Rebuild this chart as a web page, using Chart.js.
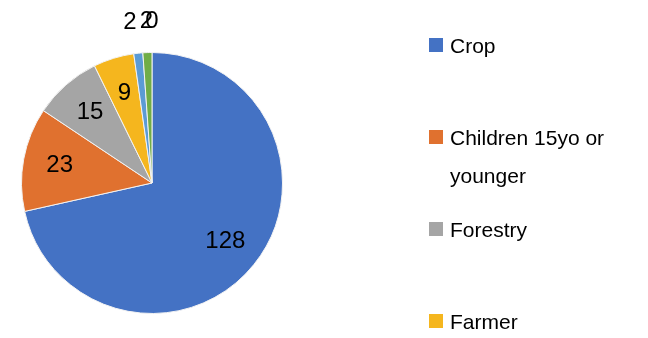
<!DOCTYPE html>
<html>
<head>
<meta charset="utf-8">
<script src="https://cdn.jsdelivr.net/npm/chart.js@4/dist/chart.umd.min.js"></script>
<style>
  html, body { margin: 0; padding: 0; background: #fff; }
  #wrap { width: 648px; height: 338px; position: relative; }
</style>
</head>
<body>
<div id="wrap"><canvas id="pie"></canvas></div>
<script>
const categories = ["Crop", "Children 15yo or younger", "Forestry", "Farmer", "Category 5", "Category 6", "Category 7"];
const counts = [128, 23, 15, 9, 2, 2, 0];
const colors = ["#4472C4", "#E0712F", "#A5A5A5", "#F5B61E", "#5B9BD5", "#70AD47", "#264478"];

const FONT = "'Liberation Sans', Arial, sans-serif";

// value labels: inside the slice when big enough, else just outside the rim
const valueLabels = {
  id: "valueLabels",
  afterDatasetsDraw(chart) {
    const ctx = chart.ctx;
    const meta = chart.getDatasetMeta(0);
    ctx.save();
    ctx.fillStyle = "#000";
    ctx.font = "24px " + FONT;
    ctx.textAlign = "center";
    ctx.textBaseline = "middle";
    let firstOutside = true;
    meta.data.forEach((arc, i) => {
      const p = arc.getProps(["x", "y", "startAngle", "endAngle", "outerRadius"], true);
      const mid = (p.startAngle + p.endAngle) / 2;
      const inside = counts[i] >= 5;
      const r = inside ? p.outerRadius * 0.72 : p.outerRadius + 31;
      let x = p.x + Math.cos(mid) * r;
      // the first of the crowded outside labels gets pushed a bit to the left
      if (!inside && firstOutside) { x -= 5; firstOutside = false; }
      ctx.fillText(String(counts[i]), x, p.y + Math.sin(mid) * r);
    });
    ctx.restore();
  }
};

// legend on the right, only the first four entries fit in the frame
const sideLegend = {
  id: "sideLegend",
  afterDraw(chart) {
    const ctx = chart.ctx;
    ctx.save();
    ctx.font = "21px " + FONT;
    ctx.textBaseline = "middle";
    let y = 47;
    for (let i = 0; i < 4; i++) {
      ctx.fillStyle = colors[i];
      ctx.fillRect(429, y - 9, 14, 14);
      ctx.fillStyle = "#000";
      // simple word wrap
      const words = categories[i].split(" ");
      const lines = [];
      let cur = "";
      words.forEach(w => {
        const test = cur ? cur + " " + w : w;
        if (ctx.measureText(test).width > 180 && cur) { lines.push(cur); cur = w; }
        else cur = test;
      });
      lines.push(cur);
      lines.forEach((ln, k) => ctx.fillText(ln, 450, y + k * 38));
      y += 92;
    }
    ctx.restore();
  }
};

new Chart(document.getElementById("pie"), {
  type: "pie",
  data: {
    labels: categories,
    datasets: [{
      data: counts,
      backgroundColor: colors,
      borderColor: "#f2f2f2",
      borderWidth: 1
    }]
  },
  options: {
    responsive: true,
    maintainAspectRatio: false,
    animation: false,
    layout: { padding: { left: 21, top: 52, right: 365, bottom: 24 } },
    plugins: {
      legend: { display: false },
      tooltip: { enabled: false }
    }
  },
  plugins: [valueLabels, sideLegend]
});
</script>
</body>
</html>
